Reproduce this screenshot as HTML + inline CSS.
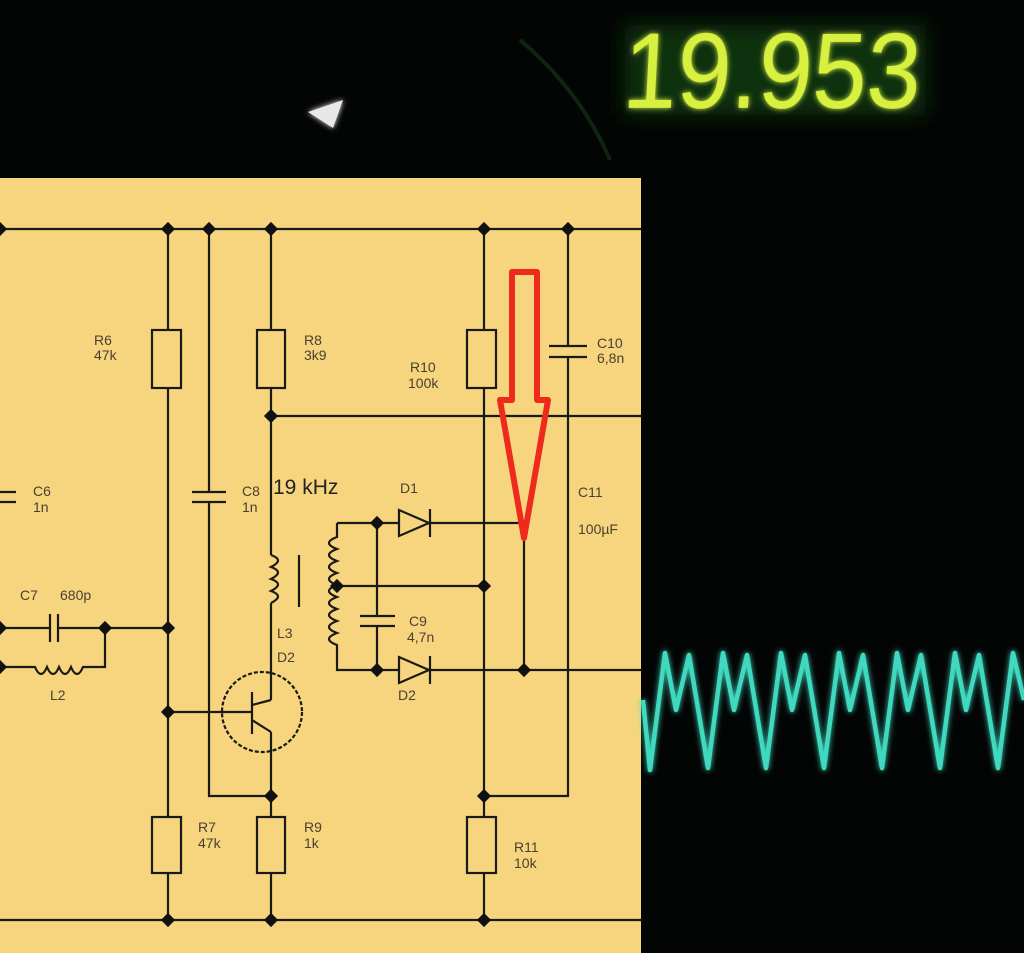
<!DOCTYPE html>
<html><head><meta charset="utf-8"><style>
html,body{margin:0;padding:0;background:#000;}
svg{display:block}
</style></head><body>
<svg width="1024" height="953" viewBox="0 0 1024 953" xmlns="http://www.w3.org/2000/svg">
<defs>
<filter id="glow" x="-20%" y="-20%" width="140%" height="140%"><feGaussianBlur stdDeviation="3" result="b"/><feMerge><feMergeNode in="b"/><feMergeNode in="SourceGraphic"/></feMerge></filter>
<filter id="glow2" x="-20%" y="-20%" width="140%" height="140%"><feGaussianBlur stdDeviation="10"/></filter>
<g id="dot"><rect x="-5" y="-5" width="10" height="10" transform="rotate(45)" fill="#111"/></g>
</defs>
<rect width="1024" height="953" fill="#030504"/>
<path d="M520 40 Q580 90 610 160" stroke="#17381a" stroke-width="4" fill="none" opacity="0.6"/>
<polygon points="308,112 343,100 333,128" fill="#e8e8e8" filter="url(#glow)"/>
<rect x="625" y="25" width="300" height="90" fill="#0a300a" filter="url(#glow2)"/>
<text x="622" y="108" font-family="Liberation Sans, sans-serif" font-size="108" fill="#d8f040" transform="skewX(-3) translate(5,0)" textLength="298" lengthAdjust="spacingAndGlyphs" filter="url(#glow)">19.953</text>

<rect x="0" y="178" width="641" height="775" fill="#f7d57f"/>
<g stroke="#1a1a14" stroke-width="2.2" fill="none">
<path d="M0 229H641"/>
<path d="M0 920H641"/>
<path d="M168 229V330M168 388V817M168 873V920"/>
<rect x="152" y="330" width="29" height="58" fill="#f7d57f"/>
<rect x="152" y="817" width="29" height="56" fill="#f7d57f"/>
<path d="M209 229V492M209 502V796H271"/>
<path d="M192 492H226M192 502H226"/>
<path d="M271 229V330M271 388V555"/>
<rect x="257" y="330" width="28" height="58" fill="#f7d57f"/>
<path d="M271 416H641"/>
<path d="M271 555 q14 5 0 12 q14 5 0 12 q14 5 0 12 q14 5 0 12"/>
<path d="M271 603V700"/>
<path d="M299 555V607"/>
<circle cx="262" cy="712" r="40" stroke-dasharray="4 2"/>
<path d="M168 712H252M252 692V734M252 705L271 700M252 720L271 732M271 732V796V817M271 873V920"/>
<rect x="257" y="817" width="28" height="56" fill="#f7d57f"/>
<path d="M484 229V330M484 388V817M484 873V920"/>
<rect x="467" y="330" width="29" height="58" fill="#f7d57f"/>
<rect x="467" y="817" width="29" height="56" fill="#f7d57f"/>
<path d="M568 229V346M568 357V796H484"/>
<path d="M549 346H587M549 357H587"/>
<path d="M337 523H430M430 523H524V670"/>
<path d="M337 523V537 q-16 6 0 12 q-16 6 0 12 q-16 6 0 12 q-16 6 0 12 q-16 6 0 12 q-16 6 0 12 q-16 6 0 12 q-16 6 0 12 q-16 6 0 12V670H641"/>
<path d="M337 586H484"/>
<path d="M377 523V616M377 626V670"/>
<path d="M360 616H395M360 626H395"/>
<polygon points="399,510 399,536 429,523" fill="#f7d57f"/>
<path d="M430 509V537"/>
<polygon points="399,657 399,683 429,670" fill="#f7d57f"/>
<path d="M430 656V684"/>
<path d="M0 492H16M0 502H16"/>
<path d="M0 628H50M58 628H168M50 614V642M58 614V642"/>
<path d="M0 667H35 q6 14 12 0 q6 14 12 0 q6 14 12 0 q6 14 12 0H105V628"/>
</g>
<g>
<use href="#dot" x="0" y="229"/><use href="#dot" x="168" y="229"/><use href="#dot" x="209" y="229"/><use href="#dot" x="271" y="229"/><use href="#dot" x="484" y="229"/><use href="#dot" x="568" y="229"/>
<use href="#dot" x="271" y="416"/><use href="#dot" x="377" y="523"/><use href="#dot" x="337" y="586"/><use href="#dot" x="484" y="586"/>
<use href="#dot" x="377" y="670"/><use href="#dot" x="524" y="670"/>
<use href="#dot" x="0" y="628"/><use href="#dot" x="105" y="628"/><use href="#dot" x="168" y="628"/><use href="#dot" x="0" y="667"/>
<use href="#dot" x="168" y="712"/><use href="#dot" x="271" y="796"/><use href="#dot" x="484" y="796"/>
<use href="#dot" x="168" y="920"/><use href="#dot" x="271" y="920"/><use href="#dot" x="484" y="920"/>
</g>
<g font-family="Liberation Sans, sans-serif" font-size="14" fill="#4a4030">
<text x="94" y="345">R6</text><text x="94" y="360">47k</text>
<text x="304" y="345">R8</text><text x="304" y="360">3k9</text>
<text x="410" y="372">R10</text><text x="408" y="388">100k</text>
<text x="597" y="348">C10</text><text x="597" y="363">6,8n</text>
<text x="33" y="496">C6</text><text x="33" y="512">1n</text>
<text x="242" y="496">C8</text><text x="242" y="512">1n</text>
<text x="400" y="493">D1</text>
<text x="578" y="497">C11</text><text x="578" y="534">100µF</text>
<text x="20" y="600">C7</text><text x="60" y="600">680p</text>
<text x="50" y="700">L2</text>
<text x="277" y="638">L3</text><text x="277" y="662">D2</text>
<text x="409" y="626">C9</text><text x="407" y="642">4,7n</text>
<text x="398" y="700">D2</text>
<text x="198" y="832">R7</text><text x="198" y="848">47k</text>
<text x="304" y="832">R9</text><text x="304" y="848">1k</text>
<text x="514" y="852">R11</text><text x="514" y="868">10k</text>
</g>
<text x="273" y="494" font-family="Liberation Sans, sans-serif" font-size="21" fill="#222">19 kHz</text>
<path d="M512 272H537V400H548L524 538L500 400H512Z" fill="none" stroke="#ee2a1c" stroke-width="6" stroke-linejoin="round"/>
<polyline fill="none" stroke="#3fd9bf" stroke-width="4.5" stroke-linejoin="round" filter="url(#glow)" points="
643,700 650,770 665,653 676,710 689,655 708,768 723,653 734,710 747,655 766,768 781,653 792,710 805,655 824,768 839,653 850,710 863,655 882,768 897,653 908,710 921,655 940,768 955,653 966,710 979,655 998,768 1013,653 1024,700"/>
</svg>
</body></html>
